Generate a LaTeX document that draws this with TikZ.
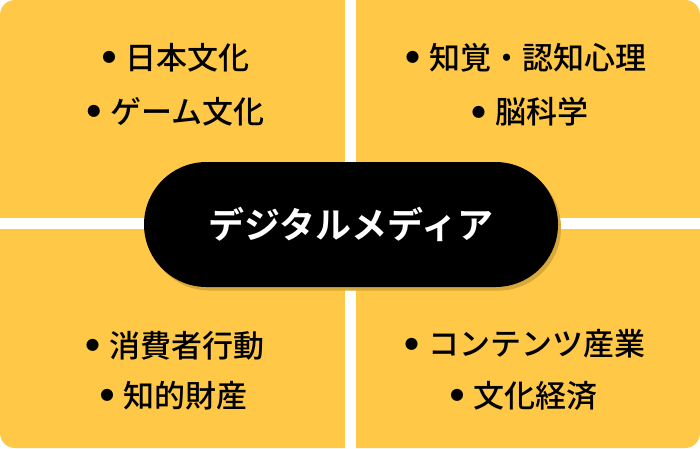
\documentclass[tikz,border=0pt]{standalone}
\usepackage{fontspec}
\newfontfamily\jp{Noto Sans CJK JP Medium}
\newfontfamily\jpb{Noto Sans CJK JP Bold}
\definecolor{panelyellow}{HTML}{FFC847}
\definecolor{shadowyellow}{HTML}{D6A93A}
\newcommand\mybul{\raisebox{6.8pt}{\fontsize{13.5}{13.5}\selectfont ●}\hspace{10pt}}
\tikzset{
  panel/.style={fill=panelyellow, draw=none, rounded corners=15pt},
  gapbar/.style={fill=white, draw=none},
  item/.style={text=black, font=\jp\fontsize{31}{37}\selectfont, inner sep=0pt, anchor=center},
  pill/.style={fill=black, draw=none, rounded corners=62.5pt, minimum width=414pt, minimum height=125pt, inner sep=0pt, text=white, font=\jpb\fontsize{36}{42}\selectfont},
  pillshadow/.style={fill=shadowyellow, draw=none, rounded corners=62.5pt, minimum width=414pt, minimum height=125pt, inner sep=0pt}
}
\begin{document}
\begin{tikzpicture}[x=1pt,y=-1pt]
\useasboundingbox (0,0) rectangle (700,448);
\fill[white] (0,0) rectangle (700,448);
% panel background and white dividing cross
\fill[panel] (0,0) rectangle (700,448);
\fill[gapbar] (345,-1) rectangle (356,449);
\fill[gapbar] (-1,218) rectangle (701,229);
% items
\node[item] (tl1) at (176,58) {\mybul 日本文化};
\node[item] (tl2) at (176,112) {\mybul ゲーム文化};
\node[item] (tr1) at (526,58) {\mybul 知覚・認知心理};
\node[item] (tr2) at (530,112) {\mybul 脳科学};
\node[item] (bl1) at (175,346) {\mybul 消費者行動};
\node[item] (bl2) at (174,396) {\mybul 知的財産};
\node[item] (br1) at (525,344) {\mybul コンテンツ産業};
\node[item] (br2) at (524,396) {\mybul 文化経済};
% center pill
\node[pillshadow] (shadow) at (354,228) {};
\node[pill] (center) at (351,224.5) {デジタルメディア};
\end{tikzpicture}
\end{document}
